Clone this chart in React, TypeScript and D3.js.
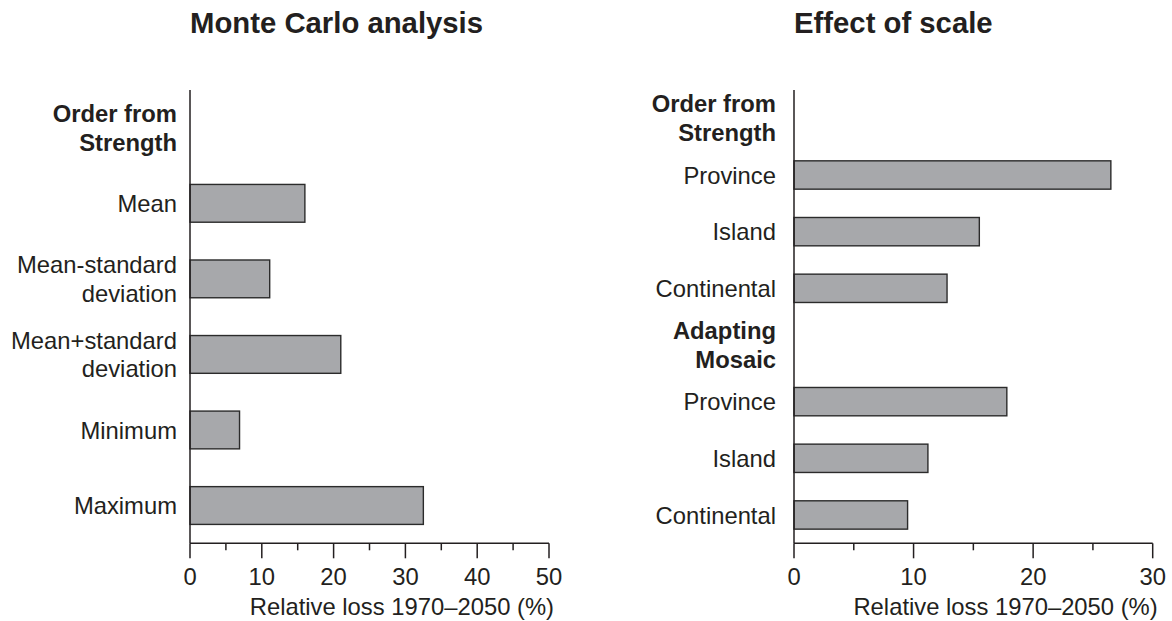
import React from "react";
import * as d3 from "d3";

const mcCategories = ["Order from\nStrength", "Mean", "Mean-standard\ndeviation", "Mean+standard\ndeviation", "Minimum", "Maximum"];
const mcValues: (number | null)[] = [null, 16, 11.1, 21, 6.9, 32.5];
const mcTicks = [0, 10, 20, 30, 40, 50];

const scCategories = ["Order from\nStrength", "Province", "Island", "Continental", "Adapting\nMosaic", "Province", "Island", "Continental"];
const scValues: (number | null)[] = [null, 26.5, 15.5, 12.8, null, 17.8, 11.2, 9.5];
const scTicks = [0, 10, 20, 30];

const FONT = "'Liberation Sans', Arial, Helvetica, sans-serif";
const TEXT = "#231f20";
const BAR_FILL = "#a7a8ab";
const BAR_STROKE = "#2b2b2b";
const FS = 23.8;

type PanelProps = {
  title: string;
  categories: string[];
  values: (number | null)[];
  ticks: number[];
  x0: number;
  x1: number;
  labelGap: number;
  lineH: number;
};

function Panel({ title, categories, values, ticks, x0, x1, labelGap, lineH }: PanelProps) {
  const yTop = 90;
  const yBot = 543.3;
  const maxT = ticks[ticks.length - 1];
  const x = d3.scaleLinear().domain([0, maxT]).range([x0, x1]);
  const y = d3
    .scaleBand<number>()
    .domain(categories.map((_, i) => i))
    .range([yTop, yBot])
    .paddingInner(0.5)
    .paddingOuter(0.25);
  const minor = d3.range(5, maxT, 10);
  return (
    <g fontFamily={FONT} fill={TEXT}>
      <text x={x0} y={32.5} fontSize={29.3} fontWeight="bold">{title}</text>
      {categories.map((c, i) => {
        const v = values[i];
        const yc = (y(i) as number) + y.bandwidth() / 2;
        const lines = c.split("\n");
        const startOff = -((lines.length - 1) * lineH) / 2;
        return (
          <g key={i}>
            {v !== null && (
              <rect
                x={x(0)}
                y={y(i)}
                width={x(v) - x(0)}
                height={y.bandwidth()}
                fill={BAR_FILL}
                stroke={BAR_STROKE}
                strokeWidth={1.4}
              />
            )}
            <text
              x={x0 - labelGap}
              y={yc}
              textAnchor="end"
              fontSize={FS}
              fontWeight={v === null ? "bold" : "normal"}
            >
              {lines.map((l, j) => (
                <tspan key={j} x={x0 - labelGap} y={yc + startOff + j * lineH} dy="0.36em">
                  {l}
                </tspan>
              ))}
            </text>
          </g>
        );
      })}
      <line x1={x0} x2={x0} y1={yTop} y2={yBot} stroke={TEXT} strokeWidth={1.5} />
      <line x1={x0} x2={x1} y1={yBot} y2={yBot} stroke={TEXT} strokeWidth={1.5} />
      {ticks.map((t) => (
        <g key={"t" + t}>
          <line x1={x(t)} x2={x(t)} y1={yBot} y2={yBot + 15} stroke={TEXT} strokeWidth={1.5} />
          <text x={x(t)} y={585} textAnchor="middle" fontSize={FS}>{t}</text>
        </g>
      ))}
      {minor.map((t) => (
        <line key={"m" + t} x1={x(t)} x2={x(t)} y1={yBot} y2={yBot + 7} stroke={TEXT} strokeWidth={1.5} />
      ))}
      <text x={x1 + 5} y={614.5} textAnchor="end" fontSize={FS}>Relative loss 1970–2050 (%)</text>
    </g>
  );
}

export default function App() {
  return (
    <svg
      width={1172}
      height={621}
      style={{ position: "absolute", left: 0, top: 0, background: "#fff" }}
    >
      <rect width={1172} height={621} fill="#fff" />
      <Panel
        title="Monte Carlo analysis"
        categories={mcCategories}
        values={mcValues}
        ticks={mcTicks}
        x0={190}
        x1={549}
        labelGap={13}
        lineH={28.5}
      />
      <Panel
        title="Effect of scale"
        categories={scCategories}
        values={scValues}
        ticks={scTicks}
        x0={794}
        x1={1152.7}
        labelGap={18}
        lineH={29}
      />
    </svg>
  );
}
